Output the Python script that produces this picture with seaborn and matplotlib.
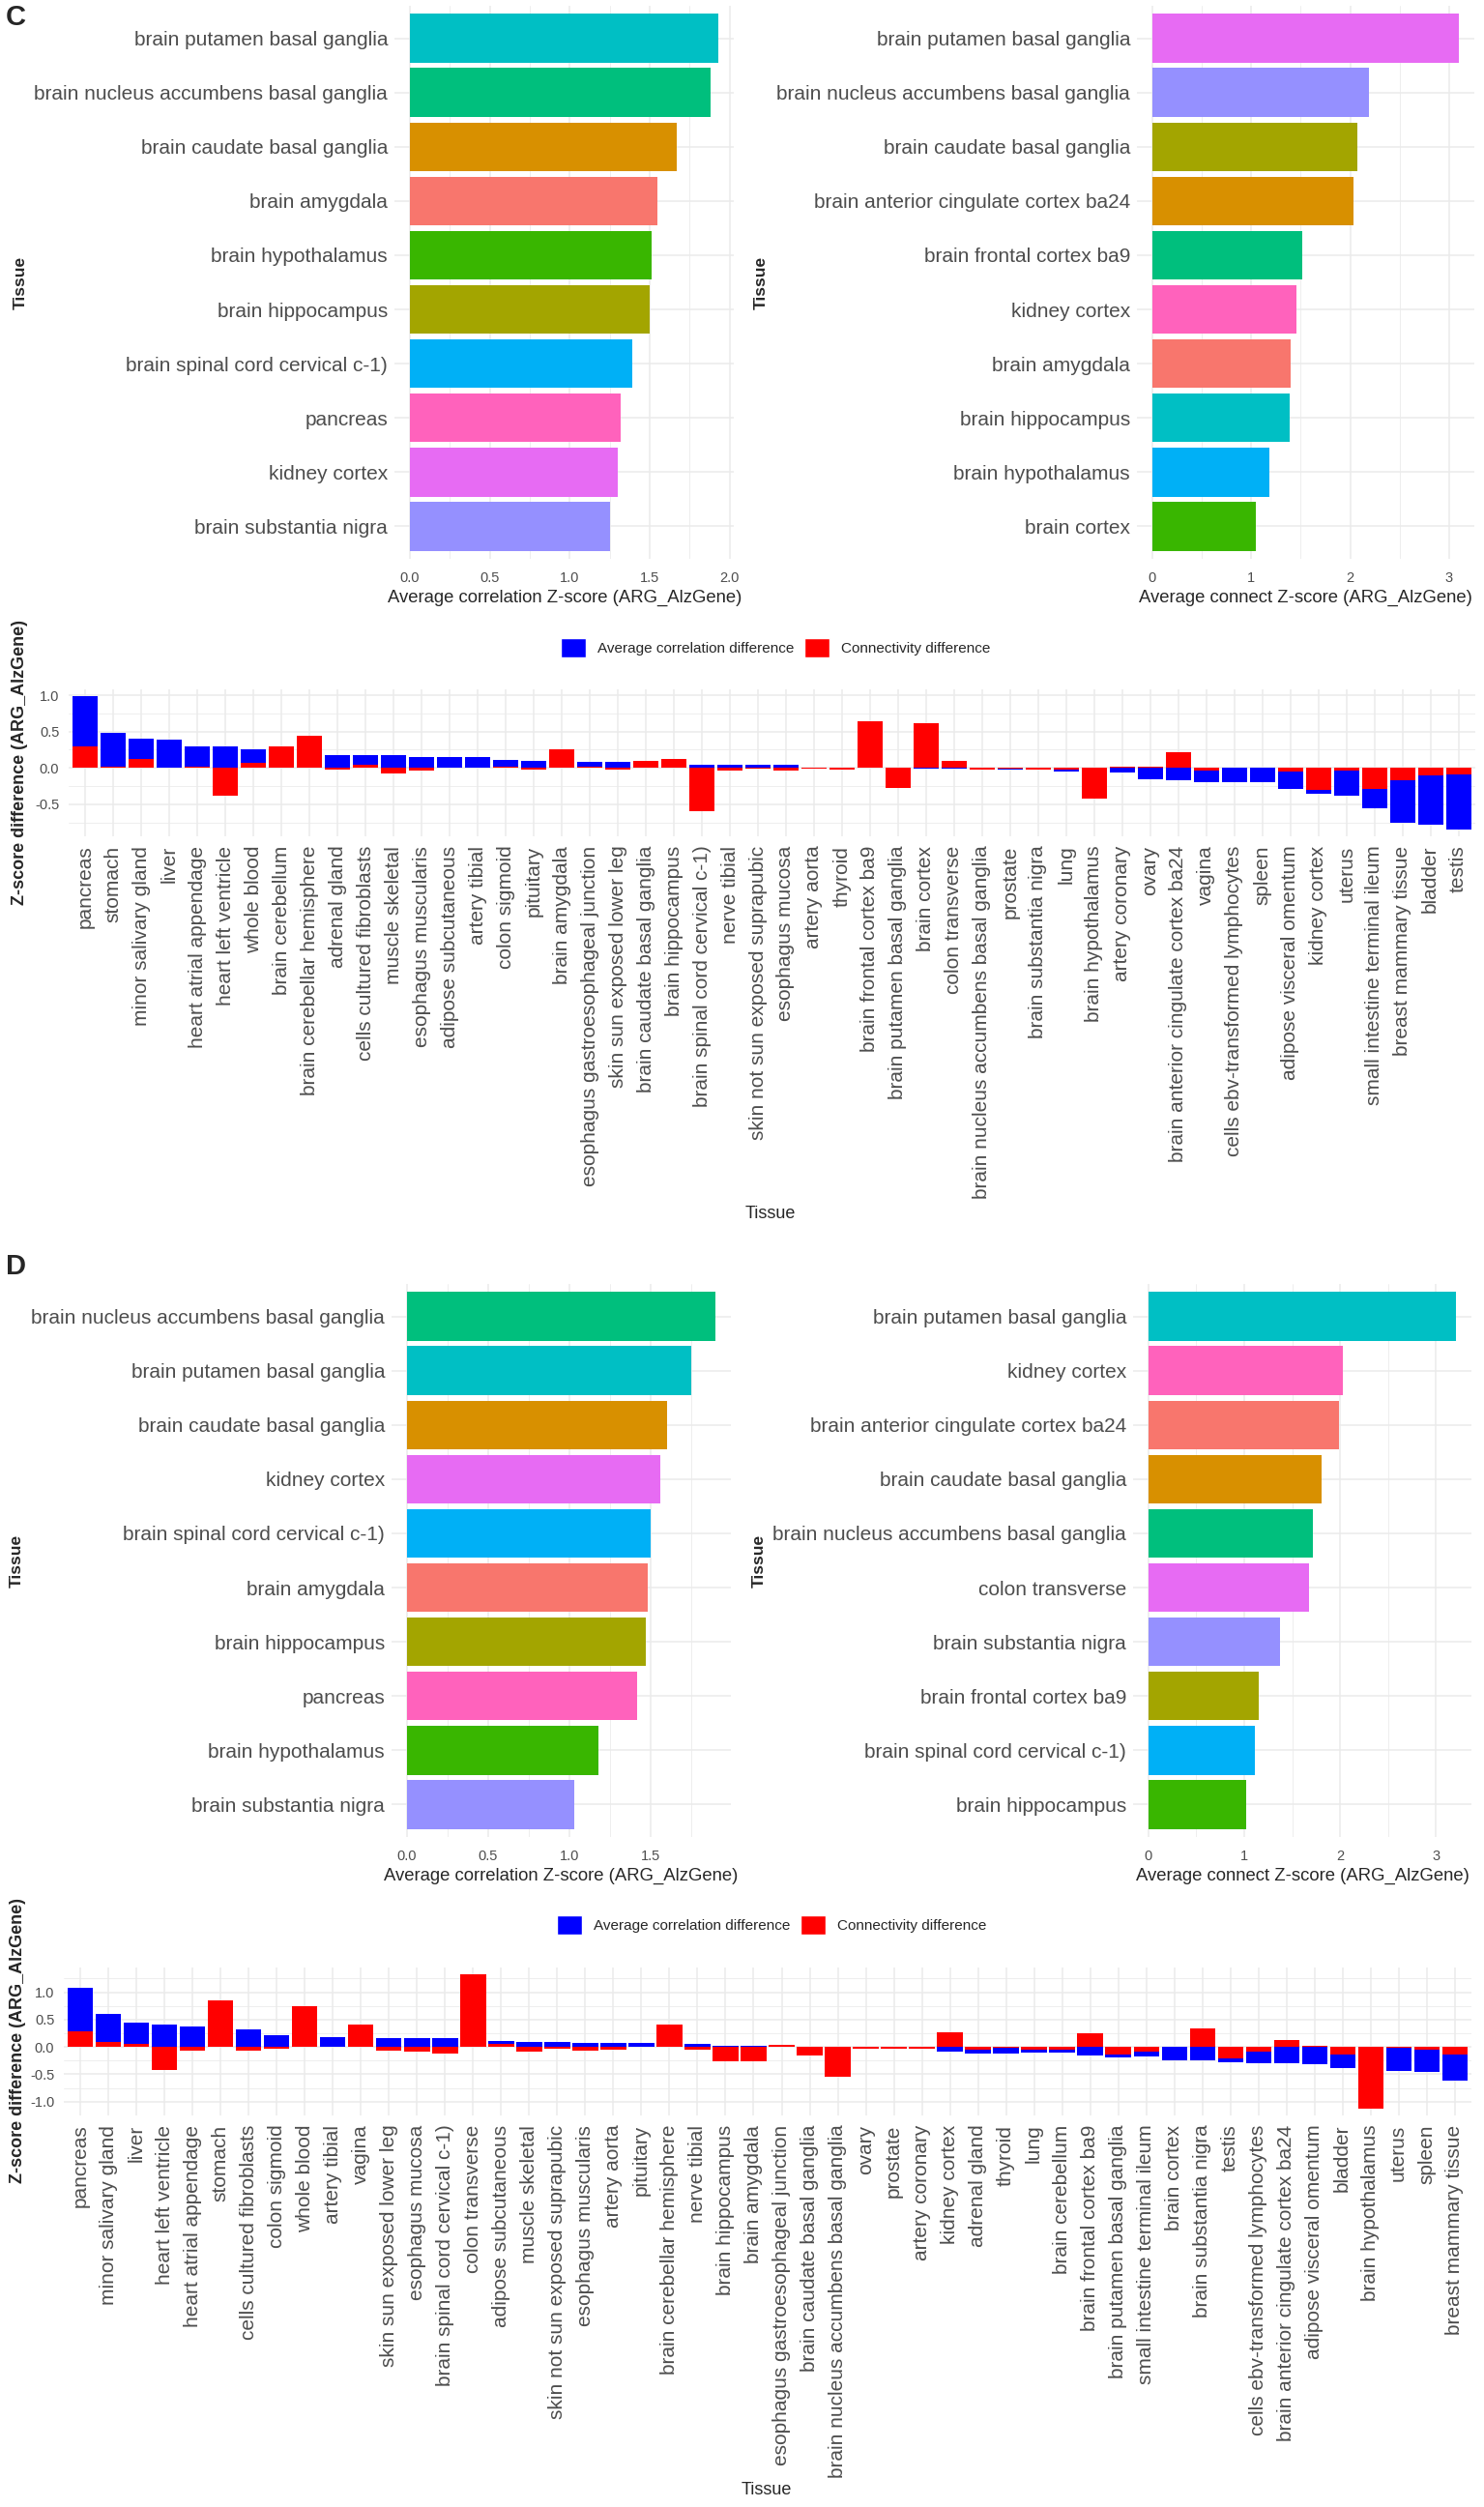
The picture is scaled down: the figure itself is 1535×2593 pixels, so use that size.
import numpy as np
import pandas as pd
import matplotlib
matplotlib.use("Agg")
import matplotlib.pyplot as plt
from matplotlib.patches import Patch
from matplotlib.ticker import MultipleLocator, FormatStrFormatter
import seaborn as sns

# ---- panel C, top: ten best tissues per score ----
c_corr_tissue = ["brain putamen basal ganglia", "brain nucleus accumbens basal ganglia",
                 "brain caudate basal ganglia", "brain amygdala", "brain hypothalamus",
                 "brain hippocampus", "brain spinal cord cervical c-1)", "pancreas",
                 "kidney cortex", "brain substantia nigra"]
c_corr_z = [1.93, 1.88, 1.67, 1.55, 1.51, 1.50, 1.39, 1.32, 1.30, 1.25]

c_conn_tissue = ["brain putamen basal ganglia", "brain nucleus accumbens basal ganglia",
                 "brain caudate basal ganglia", "brain anterior cingulate cortex ba24",
                 "brain frontal cortex ba9", "kidney cortex", "brain amygdala",
                 "brain hippocampus", "brain hypothalamus", "brain cortex"]
c_conn_z = [3.10, 2.19, 2.07, 2.03, 1.52, 1.46, 1.40, 1.39, 1.18, 1.05]

# ---- panel C, bottom: per tissue differences ----
c_diff_tissue = ["pancreas", "stomach", "minor salivary gland", "liver", "heart atrial appendage",
                 "heart left ventricle", "whole blood", "brain cerebellum",
                 "brain cerebellar hemisphere", "adrenal gland", "cells cultured fibroblasts",
                 "muscle skeletal", "esophagus muscularis", "adipose subcutaneous", "artery tibial",
                 "colon sigmoid", "pituitary", "brain amygdala",
                 "esophagus gastroesophageal junction", "skin sun exposed lower leg",
                 "brain caudate basal ganglia", "brain hippocampus",
                 "brain spinal cord cervical c-1)", "nerve tibial",
                 "skin not sun exposed suprapubic", "esophagus mucosa", "artery aorta", "thyroid",
                 "brain frontal cortex ba9", "brain putamen basal ganglia", "brain cortex",
                 "colon transverse", "brain nucleus accumbens basal ganglia", "prostate",
                 "brain substantia nigra", "lung", "brain hypothalamus", "artery coronary", "ovary",
                 "brain anterior cingulate cortex ba24", "vagina",
                 "cells ebv-transformed lymphocytes", "spleen", "adipose visceral omentum",
                 "kidney cortex", "uterus", "small intestine terminal ileum",
                 "breast mammary tissue", "bladder", "testis"]
c_corr_diff = [0.70, 0.46, 0.28, 0.39, 0.28, 0.29, 0.18, 0.0, 0.0, 0.18,
               0.14, 0.17, 0.15, 0.15, 0.15, 0.09, 0.10, 0.0, 0.06, 0.08,
               0.0, 0.0, 0.05, 0.05, 0.05, 0.05, 0.01, 0.01, 0.0, 0.0,
               -0.015, -0.015, -0.005, -0.01, 0.0, -0.03, 0.0, -0.065, -0.15, -0.17,
               -0.155, -0.20, -0.20, -0.24, -0.055, -0.35, -0.27, -0.59, -0.68, -0.76]
c_conn_diff = [0.29, 0.02, 0.12, 0.0, 0.02, -0.38, 0.07, 0.30, 0.44, -0.02,
               0.04, -0.07, -0.035, 0.0, 0.0, 0.02, -0.02, 0.25, 0.02, -0.02,
               0.10, 0.12, -0.60, -0.035, -0.01, -0.035, -0.005, -0.02, 0.64, -0.27,
               0.61, 0.09, -0.02, -0.015, -0.02, -0.02, -0.42, 0.02, 0.015, 0.22,
               -0.035, 0.0, 0.0, -0.05, -0.30, -0.035, -0.285, -0.17, -0.10, -0.09]

# ---- panel D, top ----
d_corr_tissue = ["brain nucleus accumbens basal ganglia", "brain putamen basal ganglia",
                 "brain caudate basal ganglia", "kidney cortex", "brain spinal cord cervical c-1)",
                 "brain amygdala", "brain hippocampus", "pancreas", "brain hypothalamus",
                 "brain substantia nigra"]
d_corr_z = [1.90, 1.75, 1.60, 1.56, 1.50, 1.48, 1.47, 1.42, 1.18, 1.03]

d_conn_tissue = ["brain putamen basal ganglia", "kidney cortex",
                 "brain anterior cingulate cortex ba24", "brain caudate basal ganglia",
                 "brain nucleus accumbens basal ganglia", "colon transverse",
                 "brain substantia nigra", "brain frontal cortex ba9",
                 "brain spinal cord cervical c-1)", "brain hippocampus"]
d_conn_z = [3.21, 2.03, 1.99, 1.81, 1.72, 1.68, 1.37, 1.15, 1.11, 1.02]

# ---- panel D, bottom ----
d_diff_tissue = ["pancreas", "minor salivary gland", "liver", "heart left ventricle",
                 "heart atrial appendage", "stomach", "cells cultured fibroblasts", "colon sigmoid",
                 "whole blood", "artery tibial", "vagina", "skin sun exposed lower leg",
                 "esophagus mucosa", "brain spinal cord cervical c-1)", "colon transverse",
                 "adipose subcutaneous", "muscle skeletal", "skin not sun exposed suprapubic",
                 "esophagus muscularis", "artery aorta", "pituitary", "brain cerebellar hemisphere",
                 "nerve tibial", "brain hippocampus", "brain amygdala",
                 "esophagus gastroesophageal junction", "brain caudate basal ganglia",
                 "brain nucleus accumbens basal ganglia", "ovary", "prostate", "artery coronary",
                 "kidney cortex", "adrenal gland", "thyroid", "lung", "brain cerebellum",
                 "brain frontal cortex ba9", "brain putamen basal ganglia",
                 "small intestine terminal ileum", "brain cortex", "brain substantia nigra",
                 "testis", "cells ebv-transformed lymphocytes",
                 "brain anterior cingulate cortex ba24", "adipose visceral omentum", "bladder",
                 "brain hypothalamus", "uterus", "spleen", "breast mammary tissue"]
d_corr_diff = [0.79, 0.52, 0.40, 0.41, 0.38, 0.0, 0.32, 0.22, 0.0, 0.18,
               0.0, 0.16, 0.16, 0.16, 0.0, 0.06, 0.09, 0.09, 0.065, 0.065,
               0.065, 0.0, 0.05, 0.02, 0.02, 0.0, 0.0, 0.0, 0.0, 0.0,
               0.0, -0.09, -0.07, -0.10, -0.065, -0.065, -0.16, -0.05, -0.10, -0.25,
               -0.25, -0.065, -0.22, -0.30, -0.32, -0.25, 0.0, -0.43, -0.41, -0.47]
d_conn_diff = [0.29, 0.09, 0.05, -0.43, -0.065, 0.85, -0.065, -0.025, 0.74, 0.0,
               0.41, -0.065, -0.09, -0.12, 1.33, 0.05, -0.09, -0.025, -0.065, -0.045,
               0.0, 0.41, -0.045, -0.27, -0.27, 0.04, -0.16, -0.55, -0.04, -0.04,
               -0.04, 0.26, -0.045, -0.02, -0.045, -0.045, 0.25, -0.14, -0.08, 0.0,
               0.34, -0.21, -0.08, 0.135, 0.02, -0.14, -1.13, -0.01, -0.05, -0.14]

legend_labels = ["Average correlation difference", "Connectivity difference"]

# ggplot default hue palette for 10 levels (assigned alphabetically)
HUE10 = ["#F8766D", "#D89000", "#A3A500", "#39B600", "#00BF7D",
         "#00BFC4", "#00B0F6", "#9590FF", "#E76BF3", "#FF62BC"]
BLUE, RED = "#0000FF", "#FF0000"
GRID = "#EBEBEB"
TICK = "#4D4D4D"

W, H = 1535, 2593

sns.set_style("white")
plt.rcParams["font.family"] = ["Liberation Sans", "DejaVu Sans"]
plt.rcParams["axes.unicode_minus"] = False

fig = plt.figure(figsize=(W / 100, H / 100), dpi=100)


def box(x0, y0, x1, y1):
    # pixel box (top-left origin) -> figure fraction
    return [x0 / W, 1 - y1 / H, (x1 - x0) / W, (y1 - y0) / H]


def ftext(x, y, s, **kw):
    fig.text(x / W, 1 - y / H, s, ha="center", va="center", **kw)


def top_panel(ax, tissues, values, major, fmt):
    df = pd.DataFrame({"Tissue": tissues, "z": values})
    pal = dict(zip(sorted(tissues), HUE10))
    sns.barplot(data=df, x="z", y="Tissue", hue="Tissue", palette=pal, order=tissues,
                orient="h", width=0.9, saturation=1, linewidth=0, legend=False,
                errorbar=None, ax=ax, zorder=2)
    vmax = max(values)
    ax.set_xlim(-0.05 * vmax, 1.05 * vmax)
    ax.set_ylim(len(tissues) - 0.4, -0.6)
    ax.xaxis.set_major_locator(MultipleLocator(major))
    ax.xaxis.set_minor_locator(MultipleLocator(major / 2))
    ax.xaxis.set_major_formatter(FormatStrFormatter(fmt))
    ax.grid(True, which="major", color=GRID, lw=1.1)
    ax.grid(True, which="minor", axis="x", color=GRID, lw=0.6)
    ax.set_axisbelow(True)
    sns.despine(ax=ax, left=True, bottom=True)
    ax.tick_params(axis="y", which="both", length=0, labelsize=15, labelcolor=TICK, pad=5)
    ax.tick_params(axis="x", which="both", length=0, labelsize=10.5, labelcolor=TICK, pad=9)
    ax.set_xlabel("")
    ax.set_ylabel("")


def diff_panel(ax, tissues, corr, conn):
    corr = np.array(corr)
    conn = np.array(conn)
    # stacked like ggplot: connectivity next to zero, correlation beyond it when same sign
    same = np.sign(corr) == np.sign(conn)
    df = pd.DataFrame({"Tissue": tissues,
                       "corr_end": np.where(same, corr + conn, corr),
                       "conn": conn})
    sns.barplot(data=df, x="Tissue", y="corr_end", order=tissues, color=BLUE, saturation=1,
                width=0.9, linewidth=0, errorbar=None, ax=ax, zorder=2)
    sns.barplot(data=df, x="Tissue", y="conn", order=tissues, color=RED, saturation=1,
                width=0.9, linewidth=0, errorbar=None, ax=ax, zorder=3)
    tops = np.maximum(np.maximum(df["corr_end"], df["conn"]), 0)
    bots = np.minimum(np.minimum(df["corr_end"], df["conn"]), 0)
    lo, hi = bots.min(), tops.max()
    pad = 0.05 * (hi - lo)
    ax.set_ylim(lo - pad, hi + pad)
    ax.set_xlim(-0.6, len(tissues) - 0.4)
    ax.yaxis.set_major_locator(MultipleLocator(0.5))
    ax.yaxis.set_minor_locator(MultipleLocator(0.25))
    ax.yaxis.set_major_formatter(FormatStrFormatter("%.1f"))
    ax.grid(True, which="major", color=GRID, lw=1.1)
    ax.grid(True, which="minor", axis="y", color=GRID, lw=0.6)
    ax.set_axisbelow(True)
    sns.despine(ax=ax, left=True, bottom=True)
    ax.tick_params(axis="x", length=0, labelsize=15, labelcolor=TICK, labelrotation=90, pad=7)
    ax.tick_params(axis="y", which="both", length=0, labelsize=10.5, labelcolor=TICK, pad=7)
    ax.set_xlabel("")
    ax.set_ylabel("")


def diff_legend(cx, cy):
    handles = [Patch(facecolor=BLUE, label=legend_labels[0]),
               Patch(facecolor=RED, label=legend_labels[1])]
    fig.legend(handles=handles, loc="center", bbox_to_anchor=(cx / W, 1 - cy / H), ncol=2,
               frameon=False, fontsize=11, handlelength=1.7, handleheight=1.7,
               handletextpad=0.8, columnspacing=0.7, borderpad=0)


# ---------------- panel C ----------------
ax = fig.add_axes(box(408, 6, 759, 578))
top_panel(ax, c_corr_tissue, c_corr_z, 0.5, "%.1f")
ax = fig.add_axes(box(1176, 6, 1525, 578))
top_panel(ax, c_conn_tissue, c_conn_z, 1, "%d")

ftext(16, 18, "C", fontsize=21, fontweight="bold")
ftext(21, 292, "Tissue", fontsize=12.5, fontweight="bold", rotation=90)
ftext(787, 292, "Tissue", fontsize=12.5, fontweight="bold", rotation=90)
ftext(584, 618, "Average correlation Z-score (ARG_AlzGene)", fontsize=13.3)
ftext(1350, 618, "Average connect Z-score (ARG_AlzGene)", fontsize=13.3)

ax = fig.add_axes(box(71, 713, 1526, 865))
diff_panel(ax, c_diff_tissue, c_corr_diff, c_conn_diff)
diff_legend(802, 670)
ftext(21, 789, "Z-score difference (ARG_AlzGene)", fontsize=13, fontweight="bold", rotation=90)
ftext(797, 1255, "Tissue", fontsize=13)

# ---------------- panel D ----------------
ax = fig.add_axes(box(405, 1328, 756, 1900))
top_panel(ax, d_corr_tissue, d_corr_z, 0.5, "%.1f")
ax = fig.add_axes(box(1172, 1328, 1522, 1900))
top_panel(ax, d_conn_tissue, d_conn_z, 1, "%d")

ftext(16, 1310, "D", fontsize=21, fontweight="bold")
ftext(17, 1614, "Tissue", fontsize=12.5, fontweight="bold", rotation=90)
ftext(785, 1614, "Tissue", fontsize=12.5, fontweight="bold", rotation=90)
ftext(580, 1940, "Average correlation Z-score (ARG_AlzGene)", fontsize=13.3)
ftext(1347, 1940, "Average connect Z-score (ARG_AlzGene)", fontsize=13.3)

ax = fig.add_axes(box(66, 2035, 1522, 2188))
diff_panel(ax, d_diff_tissue, d_corr_diff, d_conn_diff)
diff_legend(798, 1991)
ftext(19, 2111, "Z-score difference (ARG_AlzGene)", fontsize=13, fontweight="bold", rotation=90)
ftext(793, 2575, "Tissue", fontsize=13)

fig.savefig("out.png", dpi=100, facecolor="white")
